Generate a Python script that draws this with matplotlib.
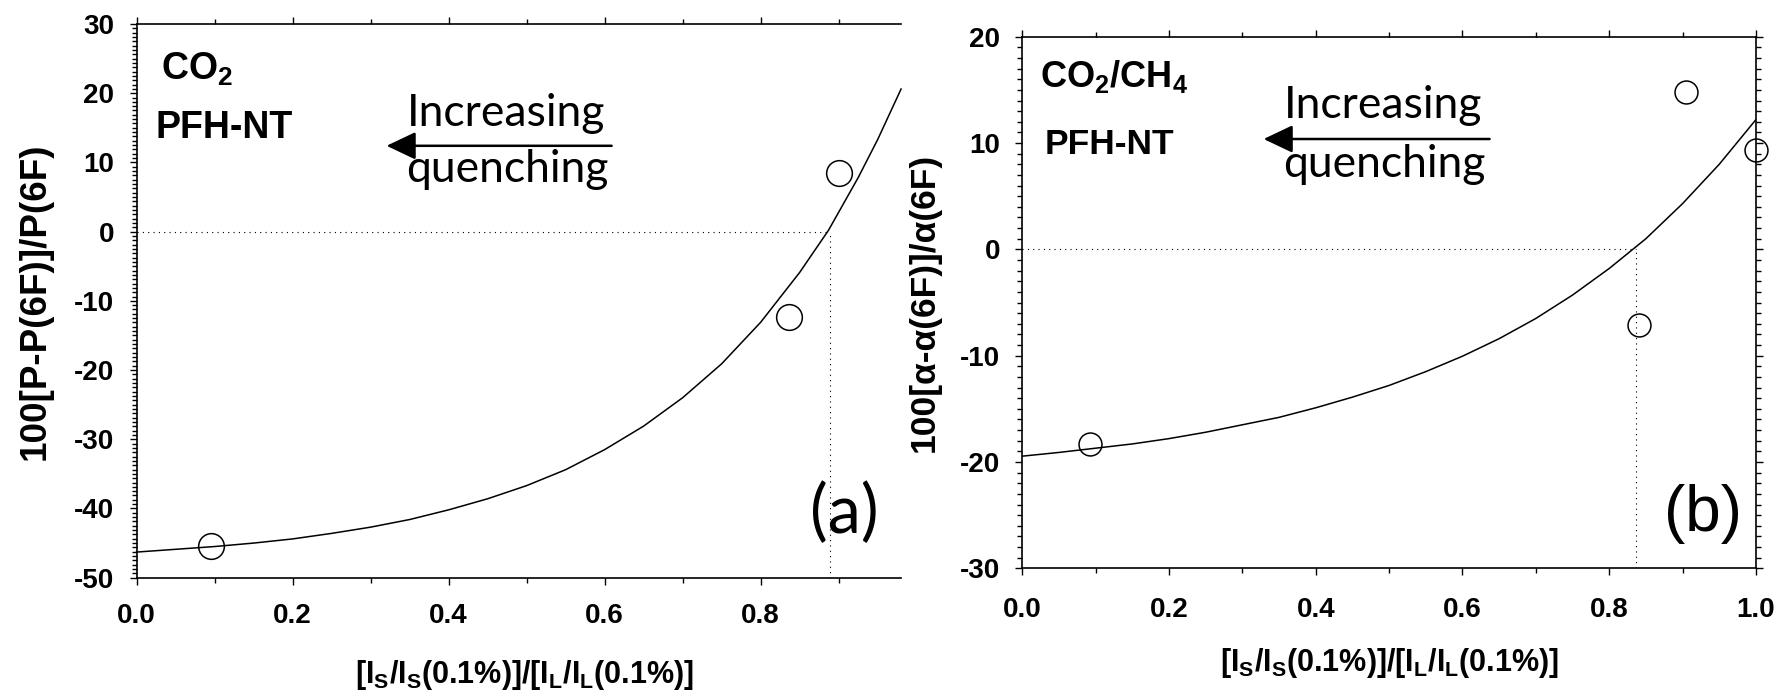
import matplotlib
matplotlib.use('Agg')
import matplotlib.pyplot as plt
from matplotlib.ticker import MultipleLocator, FormatStrFormatter

plt.rcParams['font.family'] = ['Liberation Sans', 'DejaVu Sans']
plt.rcParams['font.weight'] = 'bold'
plt.rcParams['axes.labelweight'] = 'bold'
plt.rcParams['axes.unicode_minus'] = False
plt.rcParams['mathtext.fontset'] = 'custom'
plt.rcParams['mathtext.rm'] = 'Liberation Sans:bold'
plt.rcParams['mathtext.bf'] = 'Liberation Sans:bold'
plt.rcParams['mathtext.it'] = 'Liberation Sans:bold'

# panel (a): CO2 permeability
a_x = [0.095, 0.836, 0.900]
a_y = [-45.4, -12.4, 8.4]
a_fit_x = [0.0, 0.05, 0.1, 0.15, 0.2, 0.25, 0.3, 0.35, 0.4, 0.45, 0.5, 0.55, 0.6,
           0.65, 0.7, 0.75, 0.8, 0.85, 0.887, 0.9, 0.925, 0.95, 0.98]
a_fit_y = [-46.3, -45.9, -45.5, -45.0, -44.4, -43.6, -42.7, -41.6, -40.2, -38.6, -36.7, -34.4, -31.5,
           -28.1, -24.0, -19.1, -13.1, -5.9, 0.2, 2.8, 7.8, 13.3, 20.6]
a_zero = 0.889

# panel (b): CO2/CH4 selectivity
b_x = [0.093, 0.841, 0.905, 1.0]
b_y = [-18.3, -7.1, 14.8, 9.3]
b_fit_x = [0.0, 0.05, 0.1, 0.15, 0.2, 0.25, 0.3, 0.35, 0.4, 0.45, 0.5, 0.55, 0.6,
           0.65, 0.7, 0.75, 0.8, 0.85, 0.9, 0.95, 1.0]
b_fit_y = [-19.45, -19.1, -18.7, -18.3, -17.8, -17.2, -16.5, -15.8, -14.9, -13.9, -12.8, -11.5, -10.05,
           -8.4, -6.5, -4.3, -1.8, 1.0, 4.3, 8.0, 12.2]
b_zero = 0.837

xlab = r'[I$_\mathbf{S}$/I$_\mathbf{S}$(0.1%)]/[I$_\mathbf{L}$/I$_\mathbf{L}$(0.1%)]'
dots = (0, (1, 3.8))

fig = plt.figure(figsize=(17.85, 6.93), dpi=100)
axa = fig.add_axes([0.0765, 0.1664, 0.4283, 0.799])
axb = fig.add_axes([0.5727, 0.1799, 0.4110, 0.7671])


def style(ax, ylim, yminor, xmax, xpad):
    ax.set_xlim(0, xmax)
    ax.set_ylim(*ylim)
    ax.xaxis.set_major_locator(MultipleLocator(0.2))
    ax.xaxis.set_minor_locator(MultipleLocator(0.1))
    ax.yaxis.set_major_locator(MultipleLocator(10))
    ax.yaxis.set_minor_locator(MultipleLocator(yminor))
    ax.xaxis.set_major_formatter(FormatStrFormatter('%.1f'))
    ax.tick_params(which='both', direction='out', top=True, width=1.0, labelsize=20)
    ax.tick_params(which='major', length=5)
    ax.tick_params(which='minor', length=3.4)
    ax.tick_params(axis='x', pad=xpad)
    ax.tick_params(axis='y', pad=11)
    for s in ax.spines.values():
        s.set_linewidth(1.2)


# (a)
style(axa, (-50, 30), 0.625, 0.98, 13)
axa.spines['right'].set_visible(False)
axa.plot(a_fit_x, a_fit_y, color='k', lw=1.1, clip_on=False)
axa.plot([0, a_zero], [0, 0], color='k', lw=0.8, ls=dots)
axa.plot([a_zero, a_zero], [-50, 0], color='k', lw=0.8, ls=dots)
axa.plot(a_x, a_y, 'o', mfc='none', mec='k', ms=18.5, mew=1.1, clip_on=False)
axa.text(0.031, 21.9, r'CO$_\mathbf{2}$', fontsize=27, va='baseline')
axa.text(0.024, 13.5, 'PFH-NT', fontsize=27, va='baseline')
axa.text(0.346, 15.26, 'Increasing', fontsize=32, family='Lato', fontweight='normal', va='baseline')
axa.text(0.346, 7.21, 'quenching', fontsize=32, family='Lato', fontweight='normal', va='baseline')
axa.annotate('', xy=(0.3205, 12.4), xytext=(0.609, 12.4),
             arrowprops=dict(arrowstyle='-|>,head_length=0.4,head_width=0.19', color='k',
                             lw=1.8, mutation_scale=45, shrinkA=0, shrinkB=0))
axa.text(0.907, -40.8, '(a)', fontsize=48, family='Lato', fontweight='normal', ha='center', va='center')
axa.set_ylabel('100[P-P(6F)]/P(6F)', fontsize=26.5, fontweight='bold', va='center')
axa.yaxis.set_label_coords(-0.1328, 0.5)
axa.set_xlabel(xlab, fontsize=22, fontweight='bold', va='center')
axa.xaxis.set_label_coords(0.508, -0.1757)

# (b)
style(axb, (-30, 20), 1, 1.0, 16)
axb.tick_params(which='both', right=True)
axb.plot(b_fit_x, b_fit_y, color='k', lw=1.1)
axb.plot([0, b_zero], [0, 0], color='k', lw=0.8, ls=dots)
axb.plot([b_zero, b_zero], [-30, 0], color='k', lw=0.8, ls=dots)
axb.plot(b_x, b_y, 'o', mfc='none', mec='k', ms=16.5, mew=1.1, clip_on=False)
axb.text(0.024, 15.27, r'CO$_\mathbf{2}$/CH$_\mathbf{4}$', fontsize=26, va='baseline')
axb.text(0.030, 8.97, 'PFH-NT', fontsize=25.5, va='baseline')
axb.text(0.356, 12.32, 'Increasing', fontsize=32, family='Lato', fontweight='normal', va='baseline')
axb.text(0.356, 6.83, 'quenching', fontsize=32, family='Lato', fontweight='normal', va='baseline')
axb.annotate('', xy=(0.329, 10.38), xytext=(0.637, 10.38),
             arrowprops=dict(arrowstyle='-|>,head_length=0.4,head_width=0.19', color='k',
                             lw=1.8, mutation_scale=45, shrinkA=0, shrinkB=0))
axb.text(0.928, -24.9, '(b)', fontsize=46, fontweight='normal', ha='center', va='center')
axb.set_ylabel('100[α-α(6F)]/α(6F)', fontsize=25.5, fontweight='bold', va='center')
axb.yaxis.set_label_coords(-0.134, 0.5)
axb.set_xlabel(xlab, fontsize=22, fontweight='bold', va='center')
axb.xaxis.set_label_coords(0.5005, -0.178)

fig.savefig('out.png', dpi=100)
